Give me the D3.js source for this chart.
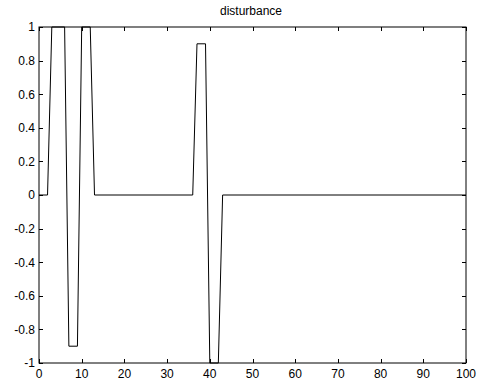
<!DOCTYPE html>
<html><head><meta charset="utf-8">
<script src="https://cdn.jsdelivr.net/npm/d3@7"></script>
<style>body{margin:0;background:#fff}svg{display:block}text{font-family:"Liberation Sans",Arial,sans-serif;font-size:12px;fill:#000}</style>
</head><body>
<script>
const xs = [0,2,3,6,7,9,10,12,13,36,37,39,40,42,43,100];
const ys = [0,0,1,1,-0.9,-0.9,1,1,0,0,0.9,0.9,-1,-1,0,0];
const xTicks = [0,10,20,30,40,50,60,70,80,90,100];
const yTicks = [-1,-0.8,-0.6,-0.4,-0.2,0,0.2,0.4,0.6,0.8,1];
const title = "disturbance";

const W=479,H=385, L=39, R=466, T=27, B=363;
const svg=d3.select("body").append("svg").attr("width",W).attr("height",H);
const x=d3.scaleLinear().domain([0,100]).range([L,R]);
const y=d3.scaleLinear().domain([-1,1]).range([B,T]);
const tl=4;
const g=svg.append("g");
g.append("rect").attr("x",L).attr("y",T).attr("width",R-L).attr("height",B-T).attr("fill","#fff").attr("stroke","#000").attr("stroke-width",1);
xTicks.forEach(t=>{
  const px=Math.round(x(t))+0.5;
  g.append("line").attr("x1",px).attr("x2",px).attr("y1",B).attr("y2",B-tl).attr("stroke","#000");
  g.append("line").attr("x1",px).attr("x2",px).attr("y1",T).attr("y2",T+tl).attr("stroke","#000");
  g.append("text").attr("x",x(t)).attr("y",B+15).attr("text-anchor","middle").text(d3.format("d")(t));
});
yTicks.forEach(t=>{
  const py=Math.round(y(t))+0.5;
  g.append("line").attr("x1",L).attr("x2",L+tl).attr("y1",py).attr("y2",py).attr("stroke","#000");
  g.append("line").attr("x1",R).attr("x2",R-tl).attr("y1",py).attr("y2",py).attr("stroke","#000");
  g.append("text").attr("x",L-4).attr("y",y(t)+4.3).attr("text-anchor","end").text(Math.abs(t)<1e-9?"0":String(+t.toFixed(1)));
});
const data=xs.map((d,i)=>[d,ys[i]]);
g.append("path").datum(data).attr("fill","none").attr("stroke","#000").attr("stroke-width",1)
 .attr("d",d3.line().x(d=>x(d[0])).y(d=>y(d[1])));
svg.append("text").attr("x",251).attr("y",15).attr("text-anchor","middle").text(title);
</script>
</body></html>
